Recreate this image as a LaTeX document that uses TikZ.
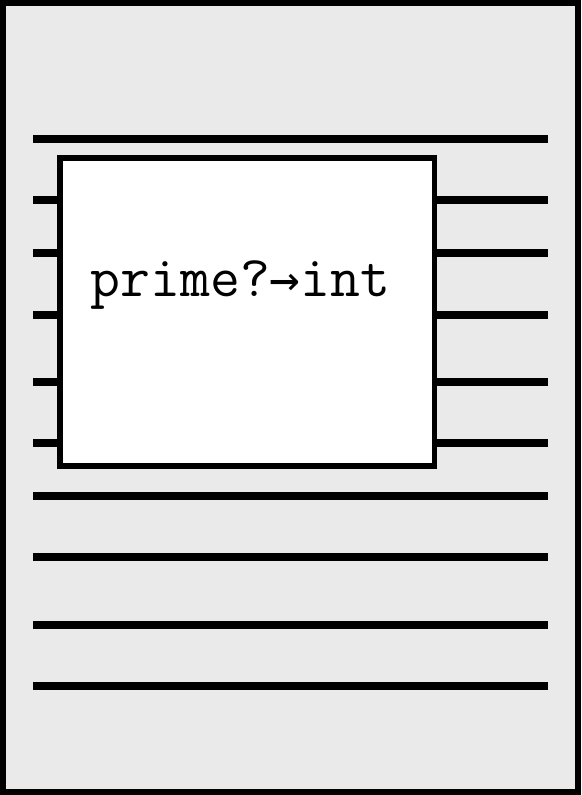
\documentclass[tikz,border=0pt]{standalone}
\usepackage{fontspec}
\newfontfamily\arrowfont{DejaVu Sans Mono}
\usetikzlibrary{positioning}
\definecolor{pagegray}{RGB}{234,234,234}
\newcommand{\monoarrow}{{\arrowfont\fontsize{51}{51}\selectfont →}}

\begin{document}
\begin{tikzpicture}[
 x=1pt,y=-1pt,
 page/.style={draw,line width=5.5pt,fill=pagegray},
 rule/.style={line width=8pt},
 card/.style={draw,line width=5.5pt,fill=white,inner sep=0pt,minimum width=374.5pt,minimum height=308pt},
 label/.style={font=\ttfamily\fontsize{58}{58}\selectfont,inner sep=0pt,anchor=base}]
\useasboundingbox (0,0) rectangle (581,795);
\draw[page] (3,3) rectangle (578,792);
\foreach \y in {139,200,253,315,382,443,496,557,625,686}
  \draw[rule] (33,\y)--(548,\y);
\node[card] (fn) at (247.25,312) {};
\node[label] (sig) at (240.5,296) {prime?\monoarrow int};
\end{tikzpicture}
\end{document}
